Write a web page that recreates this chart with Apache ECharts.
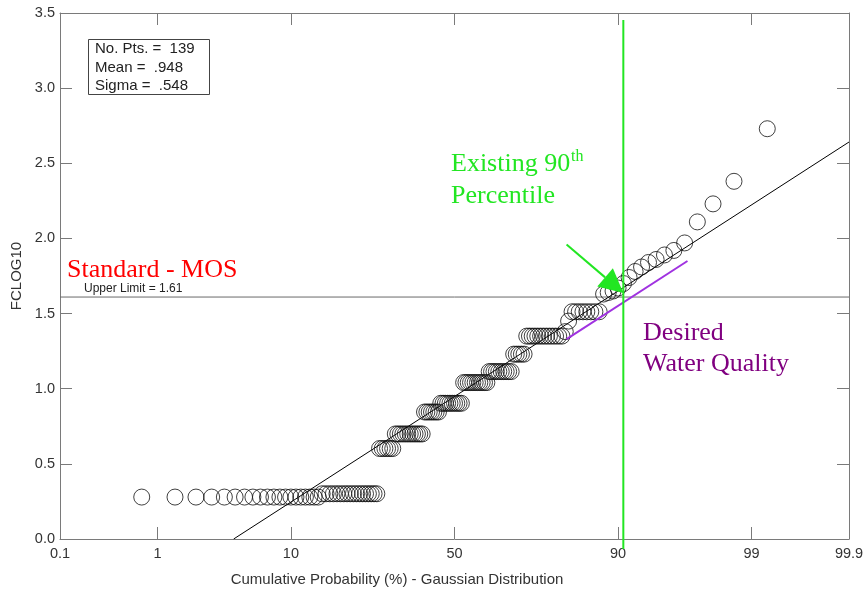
<!DOCTYPE html>
<html><head><meta charset="utf-8">
<script src="https://cdn.jsdelivr.net/npm/echarts@6/dist/echarts.min.js"></script>
<style>html,body{margin:0;padding:0;background:#fff}#c{width:868px;height:597px}</style>
</head><body><div id="c"></div>
<script>
// Sorted FCLOG10 values (139 samples)
const fclog10Sorted = [
  0.279,0.279,0.279,0.279,0.279,0.279,0.279,0.279,0.279,0.279,
  0.279,0.279,0.279,0.279,0.279,0.279,0.279,0.279,0.279,0.279,
  0.301,0.301,0.301,0.301,0.301,0.301,0.301,0.301,0.301,0.301,
  0.301,0.301,0.301,0.301,0.301,0.301,0.301,0.301,
  0.602,0.602,0.602,0.602,0.602,0.602,
  0.699,0.699,0.699,0.699,0.699,0.699,0.699,0.699,0.699,0.699,0.699,0.699,
  0.845,0.845,0.845,0.845,0.845,0.845,0.845,
  0.903,0.903,0.903,0.903,0.903,0.903,0.903,0.903,0.903,0.903,
  1.041,1.041,1.041,1.041,1.041,1.041,1.041,1.041,1.041,1.041,1.041,
  1.114,1.114,1.114,1.114,1.114,1.114,1.114,1.114,1.114,1.114,
  1.230,1.230,1.230,1.230,1.230,
  1.350,1.350,1.350,1.350,1.350,1.350,1.350,1.350,1.350,1.350,1.350,1.350,1.350,
  1.38,1.45,
  1.512,1.512,1.512,1.512,1.512,1.512,1.512,1.512,
  1.63,1.64,1.65,1.67,
  1.70,1.74,1.78,1.81,1.84,1.86,1.89,1.92,1.97,
  2.11,2.23,2.38,2.73
];
const probTickLabels = [0.1, 1, 10, 50, 90, 99, 99.9];   // cumulative probability (%)
const yMin = 0, yMax = 3.5, yStep = 0.5;
const statsN = 139, statsMean = 0.948, statsSigma = 0.548;
const upperLimit = 1.61;
const existing90Pct = 90.7;
const desiredLine = [[81.0, 1.33], [96.6, 1.85]];   // [percent, value]
const arrowLine = [[81.0, 1.96], [90.7, 1.637]];     // [percent, value] tail -> tip

function normInv(p){
  const a=[-3.969683028665376e+01,2.209460984245205e+02,-2.759285104469687e+02,1.383577518672690e+02,-3.066479806614716e+01,2.506628277459239e+00];
  const b=[-5.447609879822406e+01,1.615858368580409e+02,-1.556989798598866e+02,6.680131188771972e+01,-1.328068155288572e+01];
  const c=[-7.784894002430293e-03,-3.223964580411365e-01,-2.400758277161838e+00,-2.549732539343734e+00,4.374664141464968e+00,2.938163982698783e+00];
  const d=[7.784695709041462e-03,3.224671290700398e-01,2.445134137142996e+00,3.754408661907416e+00];
  const pl=0.02425, ph=1-pl; let q,r;
  if(p<pl){q=Math.sqrt(-2*Math.log(p));return (((((c[0]*q+c[1])*q+c[2])*q+c[3])*q+c[4])*q+c[5])/((((d[0]*q+d[1])*q+d[2])*q+d[3])*q+1);}
  if(p<=ph){q=p-0.5;r=q*q;return (((((a[0]*r+a[1])*r+a[2])*r+a[3])*r+a[4])*r+a[5])*q/(((((b[0]*r+b[1])*r+b[2])*r+b[3])*r+b[4])*r+1);}
  q=Math.sqrt(-2*Math.log(1-p));return -(((((c[0]*q+c[1])*q+c[2])*q+c[3])*q+c[4])*q+c[5])/((((d[0]*q+d[1])*q+d[2])*q+d[3])*q+1);
}
const zOf = pct => normInv(pct/100);
const xMin = zOf(probTickLabels[0]);
const xMax = zOf(probTickLabels[probTickLabels.length-1]);
const tickZ = probTickLabels.map(zOf);
function labelFor(v){
  let best=0, bd=1e9;
  tickZ.forEach((t,i)=>{const dd=Math.abs(t-v); if(dd<bd){bd=dd;best=i;}});
  return String(probTickLabels[best]);
}
const n = fclog10Sorted.length;
const scatterData = fclog10Sorted.map((v,i)=>[normInv((i+1)/(n+1)), v]);
const zFitStart = (yMin - statsMean)/statsSigma;
const fitData = [[zFitStart, yMin], [xMax, statsMean + statsSigma*xMax]];

const SANS = 'Liberation Sans, Arial, sans-serif';
const SERIF = 'Liberation Serif, Times New Roman, serif';
const AX = '#7a7a7a';
const TXT = '#333';

const chart = echarts.init(document.getElementById('c'), null, {renderer:'canvas'});
const axCommon = {
  type:'value', min:xMin, max:xMax,
  axisLine:{show:true, onZero:false, lineStyle:{color:AX, width:1}},
  axisTick:{show:true, inside:true, length:12, customValues:tickZ, lineStyle:{color:AX, width:1}},
  splitLine:{show:false}
};
chart.setOption({
  animation:false,
  grid:{left:60, right:19, top:13, bottom:58, containLabel:false},
  xAxis:[
    Object.assign({}, axCommon, {position:'bottom',
      axisLabel:{show:true, customValues:tickZ, formatter:labelFor, color:TXT, fontSize:14.5, fontFamily:SANS, margin:7}}),
    Object.assign({}, axCommon, {position:'top', axisLabel:{show:false}})
  ],
  yAxis:[
    {type:'value', min:yMin, max:yMax, interval:yStep, position:'left',
     axisLine:{show:true, onZero:false, lineStyle:{color:AX, width:1}},
     axisTick:{show:true, inside:true, length:12, lineStyle:{color:AX}},
     axisLabel:{show:true, formatter:v=>v.toFixed(1), color:TXT, fontSize:14.5, fontFamily:SANS, margin:5},
     splitLine:{show:false},
     name:'FCLOG10', nameLocation:'middle', nameGap:34, nameRotate:90,
     nameTextStyle:{color:TXT, fontSize:15, fontFamily:SANS}},
    {type:'value', min:yMin, max:yMax, interval:yStep, position:'right',
     axisLine:{show:true, onZero:false, lineStyle:{color:AX, width:1}},
     axisTick:{show:true, inside:true, length:12, lineStyle:{color:AX}},
     axisLabel:{show:false}, splitLine:{show:false}}
  ],
  series:[
    {type:'line', data:[[xMin, upperLimit],[xMax, upperLimit]], symbol:'none', silent:true,
     lineStyle:{color:'#6a6a6a', width:1}, z:1},
    {type:'line', data:fitData, symbol:'none', silent:true,
     lineStyle:{color:'#000', width:1}, z:2},
    {type:'scatter', data:scatterData, symbol:'circle', symbolSize:16, silent:true,
     itemStyle:{color:'rgba(0,0,0,0)', borderColor:'#111', borderWidth:1}, z:3},
    {type:'line', data:desiredLine.map(p=>[zOf(p[0]), p[1]]), symbol:'none', silent:true,
     lineStyle:{color:'#a032e0', width:2}, z:4}
  ]
});

const px = (pct, v) => chart.convertToPixel({xAxisIndex:0, yAxisIndex:0}, [zOf(pct), v]);
const gx = px(existing90Pct, 0)[0];
const tail = px(arrowLine[0][0], arrowLine[0][1]);
const tip = px(arrowLine[1][0], arrowLine[1][1]);
const dx = tip[0]-tail[0], dy = tip[1]-tail[1], L = Math.hypot(dx,dy);
const ux = dx/L, uy = dy/L, hl = 24, hw = 12;
const bx = tip[0]-ux*hl, by = tip[1]-uy*hl;
const ulY = chart.convertToPixel({yAxisIndex:0}, upperLimit);
const GREEN = '#22e622';
const PURPLE = '#800080';

function txt(text, x, y, font, fill, align){
  return {type:'text', silent:true, z:100, style:{text, x, y, font, fill, align:align||'left', verticalAlign:'middle'}};
}
chart.setOption({graphic:[
  {type:'rect', silent:true, z:90, shape:{x:88.5, y:39.5, width:121, height:55},
   style:{fill:'#fff', stroke:'#444', lineWidth:1}},
  txt('No. Pts. =  ' + statsN, 95, 49, '15px ' + SANS, '#222'),
  txt('Mean =  ' + String(statsMean).replace(/^0/, ''), 95, 67.5, '15px ' + SANS, '#222'),
  txt('Sigma =  ' + String(statsSigma).replace(/^0/, ''), 95, 86, '15px ' + SANS, '#222'),
  txt('Standard - MOS', 67, 270, '26px ' + SERIF, '#ff0000'),
  txt('Upper Limit = ' + upperLimit, 84, ulY - 8, '12px ' + SANS, '#222'),
  {type:'line', silent:true, z:95, shape:{x1:gx, y1:20, x2:gx, y2:549}, style:{stroke:GREEN, lineWidth:2}},
  {type:'line', silent:true, z:95, shape:{x1:tail[0], y1:tail[1], x2:bx, y2:by}, style:{stroke:GREEN, lineWidth:2}},
  {type:'polygon', silent:true, z:95, shape:{points:[[tip[0],tip[1]],[bx - uy*hw, by + ux*hw],[bx + uy*hw, by - ux*hw]]},
   style:{fill:GREEN}},
  txt('Existing 90', 451, 164, '26px ' + SERIF, GREEN),
  txt('th', 571, 157, '16px ' + SERIF, GREEN),
  txt('Percentile', 451, 196, '26px ' + SERIF, GREEN),
  txt('Desired', 643, 333, '26px ' + SERIF, PURPLE),
  txt('Water Quality', 643, 364, '26px ' + SERIF, PURPLE),
  txt('Cumulative Probability (%) - Gaussian Distribution', 397, 580, '15px ' + SANS, TXT, 'center')
]});
</script>
</body></html>
